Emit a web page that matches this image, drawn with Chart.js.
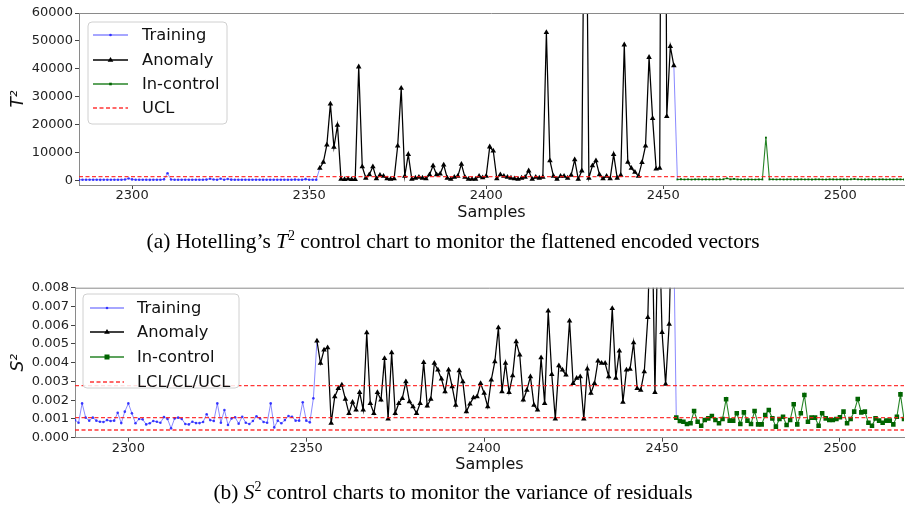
<!DOCTYPE html>
<html>
<head>
<meta charset="utf-8">
<script src="https://cdn.jsdelivr.net/npm/chart.js@4"></script>
<style>
html, body { margin: 0; padding: 0; background: #fff; width: 906px; height: 507px; overflow: hidden; position: relative; }
.box { position: absolute; left: 0; width: 908px; }
#topBox { top: 0; height: 230px; }
#botBox { top: 260px; height: 222px; }
.cap { position: absolute; left: 0; width: 906px; text-align: center; font-family: "Liberation Serif", "Times New Roman", serif; font-size: 21.4px; color: #000; line-height: 22px; }
.cap sup { font-size: 14px; line-height: 0; }
</style>
</head>
<body>
<div class="box" id="topBox"><canvas id="t2Chart"></canvas></div>
<div class="cap" style="top:230px">(a) Hotelling’s <i>T</i><sup>2</sup> control chart to monitor the flattened encoded vectors</div>
<div class="box" id="botBox"><canvas id="s2Chart"></canvas></div>
<div class="cap" style="top:481px">(b) <i>S</i><sup>2</sup> control charts to monitor the variance of residuals</div>
<script>
// samples start at 2285; training -> anomaly -> in-control follow each other
const firstSample = 2285;
const xTicks = [2300, 2350, 2400, 2450, 2500];

// Hotelling T^2
const t2Training = [
  150, 180, 160, 200, 170, 190, 150, 210, 180, 160,
  190, 170, 200, 250, 650, 300, 180, 160, 200, 170,
  150, 190, 180, 210, 320, 2500, 250, 170, 160, 190,
  200, 180, 170, 210, 160, 190, 230, 520, 260, 180,
  560, 200, 470, 220, 180, 160, 190, 200, 170, 180,
  210, 190, 160, 180, 200, 170, 190, 210, 180, 160,
  200, 230, 190, 170, 400, 210, 180, 200
];
const t2Anomaly = [
  4300, 6460, 12670, 27400, 11850, 19740, 400, 300, 500, 300,
  300, 40700, 4900, 800, 2000, 4900, 600, 1800, 1500, 600,
  400, 600, 12300, 33000, 1500, 9300, 400, 800, 1100, 800,
  600, 2000, 5200, 2000, 2300, 5500, 800, 400, 1100, 1500,
  5800, 1100, 400, 400, 400, 1500, 900, 1500, 12000, 10500,
  600, 2000, 1500, 1100, 800, 600, 400, 800, 1100, 3400,
  400, 1100, 800, 1100, 53000, 7000, 1500, 400, 1500, 1500,
  800, 1800, 7400, 400, 3400, 150000, 800, 5200, 7000, 2000,
  600, 1500, 600, 9300, 800, 1800, 48600, 6500, 4300, 2900,
  1500, 6400, 12300, 44100, 22200, 4100, 4300, 320000, 22900, 48000,
  41150
];
const t2InControl = [
  300, 350, 280, 300, 260, 300, 320, 280, 300, 290,
  310, 280, 300, 350, 700, 320, 480, 300, 270, 290,
  300, 280, 260, 300, 290, 15300, 300, 320, 280, 300,
  290, 300, 310, 280, 300, 320, 290, 300, 280, 310,
  300, 290, 280, 320, 300, 290, 310, 300, 280, 350,
  450, 300, 290, 280, 310, 300, 290, 300, 320, 280,
  300, 290, 310, 300, 280
];
const t2Limits = [1300];
const t2Ticks = [0, 10000, 20000, 30000, 40000, 50000, 60000];

// S^2 of residuals
const s2Training = [
  0.00094, 0.00080, 0.00183, 0.00107, 0.00091, 0.00107, 0.00091, 0.00085, 0.00084, 0.00094,
  0.00089, 0.00091, 0.00133, 0.00078, 0.00139, 0.00183, 0.00130, 0.00077, 0.00100, 0.00098,
  0.00071, 0.00077, 0.00089, 0.00085, 0.00080, 0.00110, 0.00100, 0.00050, 0.00103, 0.00107,
  0.00100, 0.00073, 0.00071, 0.00085, 0.00078, 0.00078, 0.00084, 0.00125, 0.00094, 0.00089,
  0.00183, 0.00080, 0.00148, 0.00068, 0.00103, 0.00109, 0.00075, 0.00112, 0.00080, 0.00073,
  0.00089, 0.00114, 0.00103, 0.00084, 0.00080, 0.00183, 0.00055, 0.00091, 0.00077, 0.00094,
  0.00116, 0.00112, 0.00091, 0.00091, 0.00189, 0.00091, 0.00082, 0.00210
];
const s2Anomaly = [
  0.00516, 0.00397, 0.00468, 0.00480, 0.00077, 0.00219, 0.00263, 0.00281, 0.00206, 0.00130,
  0.00189, 0.00148, 0.00242, 0.00148, 0.00560, 0.00183, 0.00130, 0.00242, 0.00201, 0.00423,
  0.00100, 0.00454, 0.00130, 0.00183, 0.00210, 0.00299, 0.00192, 0.00165, 0.00130, 0.00183,
  0.00402, 0.00169, 0.00206, 0.00397, 0.00361, 0.00313, 0.00246, 0.00361, 0.00272, 0.00174,
  0.00358, 0.00299, 0.00139, 0.00180, 0.00214, 0.00219, 0.00290, 0.00237, 0.00165, 0.00308,
  0.00406, 0.00587, 0.00246, 0.00397, 0.00242, 0.00331, 0.00512, 0.00441, 0.00201, 0.00254,
  0.00326, 0.00174, 0.00148, 0.00427, 0.00183, 0.00676, 0.00338, 0.00100, 0.00384, 0.00361,
  0.00335, 0.00623, 0.00290, 0.00317, 0.00326, 0.00100, 0.00367, 0.00237, 0.00290, 0.00409,
  0.00397, 0.00397, 0.00326, 0.00690, 0.00317, 0.00463, 0.00189, 0.00361, 0.00365, 0.00507,
  0.00263, 0.00254, 0.00352, 0.00641, 0.01400, 0.00242, 0.01300, 0.00562, 0.00285, 0.00605,
  0.01400
];
const s2InControl = [
  0.00107, 0.00089, 0.00085, 0.00073, 0.00077, 0.00142, 0.00085, 0.00064, 0.00094, 0.00103,
  0.00116, 0.00094, 0.00077, 0.00100, 0.00205, 0.00091, 0.00091, 0.00130, 0.00073, 0.00135,
  0.00091, 0.00073, 0.00142, 0.00071, 0.00071, 0.00121, 0.00148, 0.00103, 0.00059, 0.00100,
  0.00112, 0.00068, 0.00094, 0.00178, 0.00071, 0.00130, 0.00228, 0.00085, 0.00107, 0.00107,
  0.00064, 0.00130, 0.00103, 0.00094, 0.00094, 0.00100, 0.00109, 0.00139, 0.00077, 0.00100,
  0.00139, 0.00206, 0.00135, 0.00139, 0.00080, 0.00064, 0.00103, 0.00091, 0.00080, 0.00091,
  0.00091, 0.00071, 0.00112, 0.00231, 0.00100
];
const s2Limits = [0.00041, 0.00107, 0.00278]; // LCL, CL, UCL
const s2Ticks = [0, 0.001, 0.002, 0.003, 0.004, 0.005, 0.006, 0.007, 0.008];

const font = 'DejaVu Sans';
const blueLine = 'rgba(40,40,255,0.55)';
const blueDot = 'rgba(30,30,255,0.85)';
const greenLine = 'rgba(0,110,0,0.85)';
const greenDot = '#006400';
const redDash = 'rgba(255,20,20,0.85)';

function pts(start, vals) {
  return vals.map((v, i) => ({ x: start + i, y: v }));
}

// legend drawn the way matplotlib does it: line handle with a marker in the middle
const mplLegend = {
  id: 'mplLegend',
  afterDatasetsDraw(chart, args, o) {
    if (!o.items) return;
    const c = chart.ctx;
    c.save();
    c.beginPath();
    c.roundRect(o.x, o.y, o.w, o.h, 4);
    c.fillStyle = 'rgba(255,255,255,0.85)';
    c.fill();
    c.strokeStyle = '#d0d0d0';
    c.lineWidth = 1;
    c.stroke();
    o.items.forEach((it, i) => {
      const y = o.rowY[i];
      c.setLineDash(it.dash || []);
      c.strokeStyle = it.color;
      c.lineWidth = it.width;
      c.beginPath();
      c.moveTo(o.hx0, y);
      c.lineTo(o.hx1, y);
      c.stroke();
      c.setLineDash([]);
      const mx = (o.hx0 + o.hx1) / 2;
      if (it.marker) {
        c.fillStyle = it.markerColor;
        const r = it.size;
        c.beginPath();
        if (it.marker === 'triangle') {
          c.moveTo(mx, y - r);
          c.lineTo(mx + r * 0.95, y + r * 0.6);
          c.lineTo(mx - r * 0.95, y + r * 0.6);
          c.closePath();
        } else if (it.marker === 'rect') {
          c.rect(mx - r, y - r, 2 * r, 2 * r);
        } else {
          c.arc(mx, y, r, 0, Math.PI * 2);
        }
        c.fill();
      }
      c.fillStyle = '#111';
      c.font = '16.3px "' + font + '"';
      c.textBaseline = 'middle';
      c.textAlign = 'left';
      c.fillText(it.label, o.tx, y + 1);
    });
    c.restore();
  }
};

// top spine (bottom and left come from the axis borders)
const frame = {
  id: 'frame',
  afterDatasetsDraw(chart) {
    const a = chart.chartArea, c = chart.ctx;
    c.save();
    c.strokeStyle = '#8a8a8a';
    c.lineWidth = 1;
    c.beginPath();
    c.moveTo(a.left, a.top + 0.5);
    c.lineTo(a.right, a.top + 0.5);
    c.stroke();
    c.restore();
  }
};

function build(id, cfg) {
  const train = pts(firstSample, cfg.training);
  const anomStart = firstSample + cfg.training.length;
  const anom = pts(anomStart, cfg.anomaly);
  const icStart = anomStart + cfg.anomaly.length;
  const inc = pts(icStart, cfg.inControl);
  // blue joins at the two hand-overs between segments
  const bridge = [train[train.length - 1], anom[0], { x: anom[0].x + 0.5, y: null },
    anom[anom.length - 1], inc[0]];
  const xMin = firstSample, xMax = 2518;

  const datasets = [];
  cfg.limits.forEach(l => datasets.push({
    data: [{ x: xMin, y: l }, { x: xMax, y: l }],
    borderColor: redDash, borderWidth: 1.4, borderDash: [4, 2.5],
    pointRadius: 0, order: 0
  }));
  datasets.push({
    data: inc, borderColor: greenLine, borderWidth: 1.1,
    pointStyle: 'rect', pointRadius: cfg.icSize, pointBackgroundColor: greenDot,
    pointBorderColor: greenDot, pointBorderWidth: 0, order: 1
  });
  datasets.push({
    data: anom, borderColor: '#000', borderWidth: 1.25,
    pointStyle: 'triangle', pointRadius: 3.2, pointBackgroundColor: '#000',
    pointBorderColor: '#000', pointBorderWidth: 0, order: 2
  });
  datasets.push({
    data: train, borderColor: blueLine, borderWidth: 1,
    pointRadius: 1.3, pointBackgroundColor: blueDot, pointBorderWidth: 0, order: 3
  });
  datasets.push({
    data: bridge, borderColor: blueLine, borderWidth: 1, pointRadius: 0,
    spanGaps: false, order: 4
  });

  return new Chart(document.getElementById(id), {
    type: 'line',
    data: { datasets },
    plugins: [mplLegend, frame],
    options: {
      responsive: true,
      maintainAspectRatio: false,
      animation: false,
      layout: { padding: { top: cfg.padTop, left: 0, right: 0, bottom: 0 } },
      elements: { line: { tension: 0 } },
      plugins: {
        legend: { display: false },
        tooltip: { enabled: false },
        mplLegend: cfg.legend
      },
      scales: {
        x: {
          type: 'linear',
          min: xMin, max: xMax,
          afterBuildTicks: ax => { ax.ticks = xTicks.map(v => ({ value: v })); },
          afterFit: ax => { ax.height = cfg.xAxisHeight; },
          ticks: { color: '#222', font: { family: font, size: 13, lineHeight: 1 }, padding: 0, maxRotation: 0, callback: v => String(v) },
          grid: { drawOnChartArea: false, drawTicks: true, tickLength: 4, tickColor: '#444' },
          border: { display: true, color: '#8a8a8a', width: 1 },
          title: { display: true, text: 'Samples', color: '#111', font: { family: font, size: 16 }, padding: { top: 0, bottom: cfg.titlePad } }
        },
        y: {
          min: cfg.yMin, max: cfg.yMax,
          afterBuildTicks: ax => { ax.ticks = cfg.yTicks.map(v => ({ value: v })); },
          afterFit: ax => { ax.width = cfg.yAxisWidth; },
          ticks: { color: '#222', font: { family: font, size: 13 }, padding: 2, callback: cfg.fmt },
          grid: { drawOnChartArea: false, drawTicks: true, tickLength: 4, tickColor: '#444' },
          border: { display: true, color: '#8a8a8a', width: 1 },
          title: { display: true, text: cfg.yTitle, color: '#111', font: { family: font, size: 17, style: 'italic' }, padding: { top: 8, bottom: 0 } }
        }
      }
    }
  });
}

build('t2Chart', {
  training: t2Training, anomaly: t2Anomaly, inControl: t2InControl, limits: t2Limits,
  yMin: -1700, yMax: 60000, yTicks: t2Ticks, fmt: v => String(v),
  yTitle: 'T²', yAxisWidth: 79, padTop: 13, xAxisHeight: 45, titlePad: 8, icSize: 1.3,
  legend: {
    x: 88, y: 22, w: 139, h: 102, hx0: 93, hx1: 128, tx: 142,
    rowY: [35, 60, 84, 108],
    items: [
      { label: 'Training', color: blueLine, width: 1.3, marker: 'circle', markerColor: blueDot, size: 1.3 },
      { label: 'Anomaly', color: '#000', width: 1.3, marker: 'triangle', markerColor: '#000', size: 3 },
      { label: 'In-control', color: greenLine, width: 1.3, marker: 'rect', markerColor: greenDot, size: 1.3 },
      { label: 'UCL', color: redDash, width: 1.3, dash: [4, 2.5] }
    ]
  }
});

build('s2Chart', {
  training: s2Training, anomaly: s2Anomaly, inControl: s2InControl, limits: s2Limits,
  yMin: 0, yMax: 0.008, yTicks: s2Ticks, fmt: v => v.toFixed(3),
  yTitle: 'S²', yAxisWidth: 75, padTop: 27.7, xAxisHeight: 44.3, titlePad: 7.4, icSize: 3.2,
  legend: {
    x: 83, y: 34, w: 156, h: 94, hx0: 90, hx1: 124, tx: 137,
    rowY: [48, 72, 97, 122],
    items: [
      { label: 'Training', color: blueLine, width: 1.3, marker: 'circle', markerColor: blueDot, size: 1.3 },
      { label: 'Anomaly', color: '#000', width: 1.3, marker: 'triangle', markerColor: '#000', size: 3 },
      { label: 'In-control', color: greenLine, width: 1.3, marker: 'rect', markerColor: greenDot, size: 2.5 },
      { label: 'LCL/CL/UCL', color: redDash, width: 1.3, dash: [4, 2.5] }
    ]
  }
});
</script>
</body>
</html>
